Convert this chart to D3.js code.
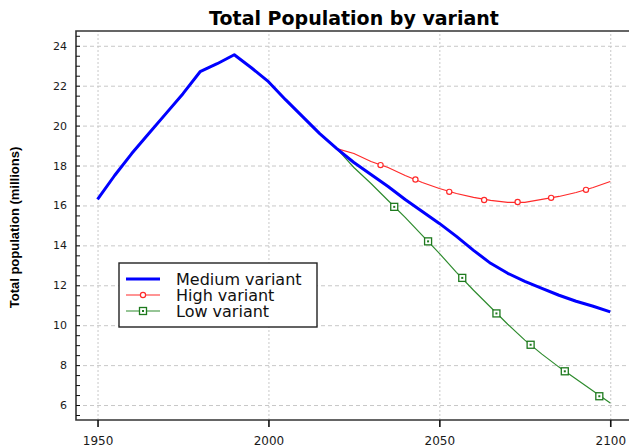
<!DOCTYPE html>
<html>
<head>
<meta charset="utf-8">
<script src="https://cdn.jsdelivr.net/npm/d3@7"></script>
<style>
    body { margin: 0; background: #fff; }
    svg { display: block; }
    .axis text { font-family: "DejaVu Sans", sans-serif; fill: #1a1a1a; }
    .grid line { stroke: #c8c8c8; stroke-width: 1; }
    .grid path { display: none; }
</style>
</head>
<body>
<div id="chart"></div>
<script>
// series (millions)
var years = [1950, 1955, 1960, 1965, 1970, 1975, 1980, 1985, 1990, 1995, 2000, 2005, 2010, 2015, 2020,
    2025, 2030, 2035, 2040, 2045, 2050, 2055, 2060, 2065, 2070, 2075, 2080, 2085, 2090, 2095, 2100];
var medium = [16.3, 17.5, 18.6, 19.6, 20.6, 21.6, 22.7, 23.1, 23.55, 22.9, 22.2, 21.3, 20.45, 19.6, 18.85,
    18.15, 17.55, 16.95, 16.3, 15.7, 15.1, 14.45, 13.75, 13.1, 12.6, 12.2, 11.85, 11.5, 11.2, 10.95, 10.67];

var projYears = [2020, 2025, 2030, 2035, 2040, 2045, 2050, 2055, 2060, 2065, 2070, 2075, 2080, 2085, 2090, 2095, 2100];
var high = [18.85, 18.6, 18.2, 17.9, 17.5, 17.15, 16.85, 16.6, 16.4, 16.25, 16.15, 16.15, 16.3, 16.45, 16.65, 16.9, 17.2];
var low = [18.85, 17.9, 17.1, 16.25, 15.4, 14.5, 13.6, 12.65, 11.75, 10.9, 10.05, 9.25, 8.55, 7.9, 7.3, 6.7, 6.1];

// symbols on the thin lines
var highMarkYears = [2032.8, 2043.0, 2052.9, 2063.1, 2072.9, 2082.7, 2092.9];
var highMarks = [18.02, 17.3, 16.68, 16.27, 16.17, 16.38, 16.78];
var lowMarkYears = [2036.8, 2046.7, 2056.7, 2066.7, 2076.7, 2086.7, 2096.8];
var lowMarks = [15.93, 14.2, 12.37, 10.59, 9.02, 7.69, 6.44];

var xTicks = [1950, 2000, 2050, 2100];
var yTicks = [6, 8, 10, 12, 14, 16, 18, 20, 22, 24];
var legendLabels = ["Medium variant", "High variant", "Low variant"];

var width = 629, height = 447;
// note: "top" is taken by window.top, so plot edges get their own names
var plotLeft = 76, plotTop = 31, plotBottom = 420, plotRight = 640;

var svg = d3.select("#chart").append("svg")
    .attr("width", width)
    .attr("height", height);

svg.append("rect").attr("width", width).attr("height", height).attr("fill", "#fff");

var x = d3.scaleLinear().domain([1943.7, 2108.7]).range([plotLeft, plotRight]);
var y = d3.scaleLinear().domain([5.25, 24.74]).range([plotBottom, plotTop]);

// grid
svg.append("g")
    .attr("class", "grid")
    .attr("transform", "translate(0," + plotBottom + ")")
    .call(d3.axisBottom(x).tickValues(xTicks).tickSize(-(plotBottom - plotTop)).tickFormat(""))
    .selectAll("line").attr("stroke-dasharray", "2,2");

svg.append("g")
    .attr("class", "grid")
    .attr("transform", "translate(" + plotLeft + ",0)")
    .call(d3.axisLeft(y).tickValues(yTicks).tickSize(-(plotRight - plotLeft)).tickFormat(""))
    .selectAll("line").attr("stroke-dasharray", "4,3");

// frame (right side falls outside the picture)
svg.append("path")
    .attr("d", "M" + plotRight + "," + plotTop + "H" + plotLeft + "V" + plotBottom + "H" + plotRight)
    .attr("fill", "none")
    .attr("stroke", "#333")
    .attr("stroke-width", 1.6);

// x axis
var xAxis = svg.append("g")
    .attr("class", "axis")
    .attr("transform", "translate(0," + plotBottom + ")")
    .call(d3.axisBottom(x).tickValues(xTicks).tickSize(7).tickPadding(9).tickFormat(d3.format("d")));
xAxis.select(".domain").remove();
xAxis.selectAll("line").attr("stroke", "#111").attr("stroke-width", 1.6);
xAxis.selectAll("text").style("font-size", "12px");

// y axis: small inward ticks every half unit, labels on even values
var yMinor = svg.append("g")
    .attr("class", "axis")
    .attr("transform", "translate(" + plotLeft + ",0)")
    .call(d3.axisRight(y).tickValues(d3.range(5.5, 24.6, 0.5)).tickSize(4).tickFormat(""));
yMinor.select(".domain").remove();
yMinor.selectAll("line").attr("stroke", "#111");

var yAxis = svg.append("g")
    .attr("class", "axis")
    .attr("transform", "translate(" + plotLeft + ",0)")
    .call(d3.axisLeft(y).tickValues(yTicks).tickSize(0).tickPadding(9));
yAxis.select(".domain").remove();
yAxis.selectAll("text").style("font-size", "11px");

// lines
var line = d3.line()
    .x(function (d) { return x(d[0]); })
    .y(function (d) { return y(d[1]); });

svg.append("path")
    .datum(d3.zip(projYears, low))
    .attr("d", line)
    .attr("fill", "none")
    .attr("stroke", "#2e8b2e")
    .attr("stroke-width", 1.2);

svg.append("path")
    .datum(d3.zip(projYears, high))
    .attr("d", line)
    .attr("fill", "none")
    .attr("stroke", "#ff2a2a")
    .attr("stroke-width", 1.2);

svg.append("path")
    .datum(d3.zip(years, medium))
    .attr("d", line)
    .attr("fill", "none")
    .attr("stroke", "#0000ff")
    .attr("stroke-width", 3)
    .attr("stroke-linejoin", "round");

svg.selectAll(".hi-mark")
    .data(d3.zip(highMarkYears, highMarks))
    .enter().append("circle")
    .attr("class", "hi-mark")
    .attr("cx", function (d) { return x(d[0]); })
    .attr("cy", function (d) { return y(d[1]); })
    .attr("r", 2.6)
    .attr("fill", "#fff")
    .attr("stroke", "#ff2a2a")
    .attr("stroke-width", 1.2);

function square(g, cx, cy) {
    g.append("rect")
        .attr("x", cx - 3.5).attr("y", cy - 3.5)
        .attr("width", 7).attr("height", 7)
        .attr("fill", "#fff")
        .attr("stroke", "#1e7a1e")
        .attr("stroke-width", 1.3);
    g.append("rect")
        .attr("x", cx - 1).attr("y", cy - 1)
        .attr("width", 2).attr("height", 2)
        .attr("fill", "#1e7a1e");
}

var lowG = svg.append("g");
d3.zip(lowMarkYears, lowMarks).forEach(function (d) {
    square(lowG, x(d[0]), y(d[1]));
});

// title and y label
svg.append("text")
    .attr("x", (plotLeft + 632) / 2)
    .attr("y", 25)
    .attr("text-anchor", "middle")
    .style("font-family", "'DejaVu Sans', sans-serif")
    .style("font-weight", "bold")
    .style("font-size", "19px")
    .text("Total Population by variant");

svg.append("text")
    .attr("transform", "translate(19," + ((plotTop + plotBottom) / 2 + 2) + ") rotate(-90)")
    .attr("text-anchor", "middle")
    .style("font-family", "'Liberation Sans', Arial, sans-serif")
    .style("font-weight", "bold")
    .style("font-size", "13px")
    .text("Total population (millions)");

// legend
var legend = svg.append("g").attr("transform", "translate(119,263)");
legend.append("rect")
    .attr("width", 198).attr("height", 64)
    .attr("fill", "#fff")
    .attr("stroke", "#222")
    .attr("stroke-width", 1.4);

var legendColors = ["#0000ff", "#ff2a2a", "#2e8b2e"];
var legendWidths = [3, 1.2, 1.2];
var rowY = d3.scalePoint().domain(legendLabels).range([16, 48]);

legendLabels.forEach(function (name, i) {
    var yy = rowY(name);
    legend.append("line")
        .attr("x1", 7).attr("x2", 41)
        .attr("y1", yy).attr("y2", yy)
        .attr("stroke", legendColors[i])
        .attr("stroke-width", legendWidths[i]);
    legend.append("text")
        .attr("x", 57).attr("y", yy + 5.5)
        .style("font-family", "'DejaVu Sans', sans-serif")
        .style("font-size", "16px")
        .attr("fill", "#111")
        .text(name);
});
legend.append("circle")
    .attr("cx", 24).attr("cy", rowY(legendLabels[1])).attr("r", 2.6)
    .attr("fill", "#fff").attr("stroke", "#ff2a2a").attr("stroke-width", 1.2);
square(legend, 24, rowY(legendLabels[2]));
</script>
</body>
</html>
